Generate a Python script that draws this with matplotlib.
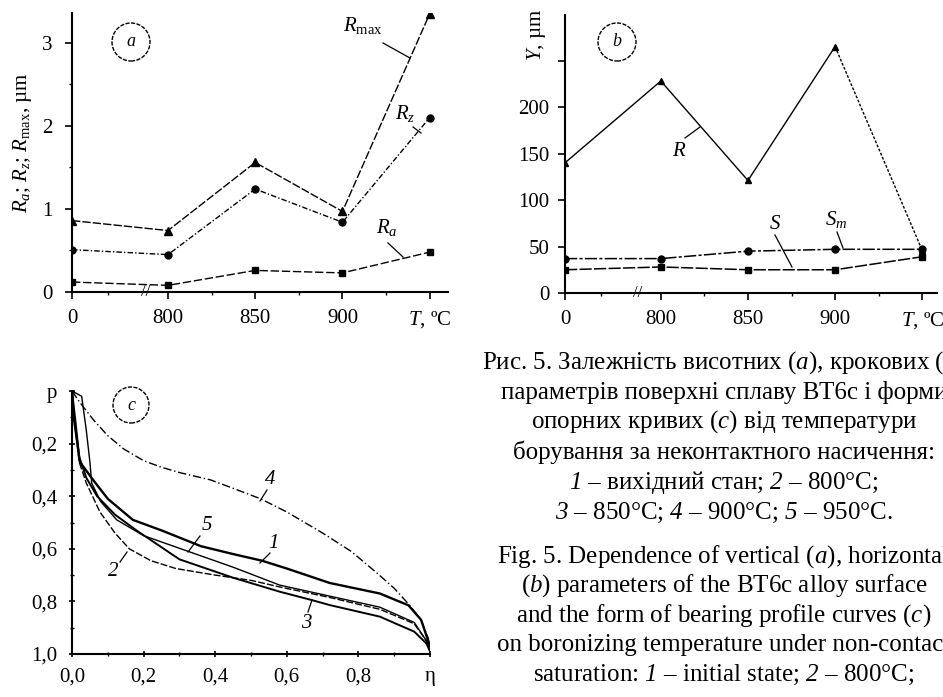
"""Boronizing of BT6c alloy: roughness, step parameters and bearing curves."""

import matplotlib

matplotlib.use("Agg")

import matplotlib.pyplot as plt
import numpy as np
from matplotlib.lines import Line2D
from matplotlib.patches import Ellipse

plt.rcParams["font.family"] = ["Liberation Serif", "DejaVu Serif"]
plt.rcParams["mathtext.fontset"] = "custom"
plt.rcParams["mathtext.rm"] = "Liberation Serif"
plt.rcParams["mathtext.it"] = "Liberation Serif:italic"
plt.rcParams["mathtext.bf"] = "Liberation Serif:bold"
# italic digits: mathtext sends digits in \mathit to roman, so borrow \mathsf
plt.rcParams["mathtext.sf"] = "Liberation Serif:italic"

W, H = 943, 697

# panels a and b: boronizing temperature (0 = initial state)
temps = ["0", "800", "850", "900", "950"]
temp_labels = ["0", "800", "850", "900", "$T$, ºC"]

r_max = [0.86, 0.74, 1.56, 0.97, 3.35]
r_z = [0.51, 0.45, 1.24, 0.84, 2.10]
r_a = [0.12, 0.08, 0.26, 0.23, 0.48]

step_r = [140, 228, 121, 265, 46]
step_sm = [37, 37, 45, 47, 47]
step_s = [25, 28, 25, 25, 39]

# panel c: bearing profile curves (eta, p)
eta_1 = [0, 0.005, 0.015, 0.022, 0.06, 0.1, 0.17, 0.25, 0.36, 0.45, 0.53,
         0.6, 0.72, 0.86, 0.94, 0.975, 0.99, 1.0]
p_1 = [0, 0.1, 0.2, 0.27, 0.34, 0.41, 0.49, 0.53, 0.59, 0.62, 0.645,
       0.675, 0.73, 0.77, 0.815, 0.87, 0.93, 0.97]
eta_2 = [0, 0.01, 0.02, 0.04, 0.078, 0.12, 0.16, 0.22, 0.29, 0.4, 0.5,
         0.58, 0.72, 0.86, 0.956, 0.99, 1.0]
p_2 = [0, 0.15, 0.27, 0.35, 0.46, 0.54, 0.6, 0.645, 0.675, 0.7, 0.72,
       0.745, 0.785, 0.83, 0.885, 0.95, 0.99]
eta_3 = [0, 0.01, 0.02, 0.04, 0.07, 0.12, 0.18, 0.3, 0.45, 0.58, 0.67,
         0.72, 0.86, 0.956, 0.99, 1.0]
p_3 = [0, 0.12, 0.25, 0.33, 0.4, 0.47, 0.53, 0.64, 0.71, 0.763, 0.795,
       0.814, 0.858, 0.915, 0.96, 0.99]
eta_4 = [0, 0.02, 0.06, 0.1, 0.144, 0.2, 0.25, 0.3, 0.387, 0.45, 0.527,
         0.6, 0.7, 0.78, 0.85, 0.9, 0.94, 0.975, 0.995, 1.0]
p_4 = [0, 0.04, 0.11, 0.17, 0.22, 0.265, 0.29, 0.31, 0.338, 0.37, 0.41,
       0.46, 0.54, 0.61, 0.69, 0.75, 0.81, 0.87, 0.94, 0.99]
eta_5 = [0, 0.027, 0.04, 0.05, 0.055, 0.08, 0.125, 0.2, 0.325, 0.45, 0.58,
         0.72, 0.86, 0.956, 0.99, 1.0]
p_5 = [0, 0.02, 0.15, 0.27, 0.35, 0.42, 0.49, 0.55, 0.61, 0.67, 0.738,
       0.78, 0.822, 0.88, 0.95, 0.99]

eta_ticks = ["0,0", "0,2", "0,4", "0,6", "0,8", "η"]
p_ticks = ["p", "0,2", "0,4", "0,6", "0,8", "1,0"]

caption_lines = [
    "Рис. 5. Залежність висотних ($\\mathit{a}$), крокових ($\\mathit{b}$)",
    "параметрів поверхні сплаву ВТ6с і форми",
    "опорних кривих ($\\mathit{c}$) від температури",
    "борування за неконтактного насичення:",
    "$\\mathsf{1}$ – вихідний стан; $\\mathsf{2}$ – 800°C;",
    "$\\mathsf{3}$ – 850°C; $\\mathsf{4}$ – 900°C; $\\mathsf{5}$ – 950°C.",
    "Fig. 5. Dependence of vertical ($\\mathit{a}$), horizontal",
    "($\\mathit{b}$) parameters of the BT6c alloy surface",
    "and the form of bearing profile curves ($\\mathit{c}$)",
    "on boronizing temperature under non-contact",
    "saturation: $\\mathsf{1}$ – initial state; $\\mathsf{2}$ – 800°C;",
]
caption_y = [363, 393, 422, 452, 483, 513, 557, 586, 616, 645, 675]

TICK_SIZE = 15


def fig_xy(x_px, y_px):
    """Convert pixel position (from the top left) to figure fraction."""
    return x_px / W, 1 - y_px / H


def axes_rect(left, top, right, bottom):
    x0, y1 = fig_xy(left, top)
    x1, y0 = fig_xy(right, bottom)
    return [x0, y0, x1 - x0, y1 - y0]


def category_positions(n):
    """Initial state sits a little apart from the temperature series."""
    positions = np.arange(n, dtype=float)
    positions[1:] += 0.1
    return positions


def style_axes(ax):
    for side in ("top", "right"):
        ax.spines[side].set_visible(False)
    for side in ("left", "bottom"):
        ax.spines[side].set_linewidth(1.5)
    ax.tick_params(which="major", direction="out", length=5, width=1.2,
                   labelsize=TICK_SIZE)
    ax.tick_params(which="minor", direction="out", length=2.5, width=1.0)


def leader(fig, text, text_px, line_px, size=15):
    tx, ty = fig_xy(*text_px)
    fig.text(tx, ty, text, ha="center", va="center", fontsize=size)
    (x0, y0), (x1, y1) = fig_xy(*line_px[0]), fig_xy(*line_px[1])
    fig.add_artist(Line2D([x0, x1], [y0, y1], color="black", lw=0.9,
                          transform=fig.transFigure))


def circle_label(fig, letter, center_px, radius_px=19):
    cx, cy = fig_xy(*center_px)
    fig.add_artist(Ellipse((cx, cy), 2 * radius_px / W, 2 * radius_px / H,
                           transform=fig.transFigure, fill=False,
                           ec="black", lw=1.0, ls=(0, (3, 1))))
    fig.text(cx, cy, letter, ha="center", va="center", fontsize=13,
             style="italic")


def axis_break(ax, x):
    ax.text(x, 0, "//", transform=ax.get_xaxis_transform(), ha="center",
            va="center", fontsize=12, clip_on=False)


fig = plt.figure(figsize=(W / 100, H / 100), dpi=100)

# ---- panel a: height parameters
ax_a = fig.add_axes(axes_rect(72, 13, 448, 292))
xa = category_positions(len(temps))
ax_a.plot(xa, r_max, color="black", lw=1.0, ls=(0, (6, 1.5)),
          marker="^", ms=6)
ax_a.plot(xa, r_z, color="black", lw=1.0, ls=(0, (4, 1.5, 1, 1.5)),
          marker="o", ms=5)
ax_a.plot(xa, r_a, color="black", lw=1.0, ls=(0, (6, 2)),
          marker="s", ms=4.5)
ax_a.set_xlim(0, 4.31)
ax_a.set_ylim(0, 3.36)
ax_a.set_xticks(xa, temp_labels)
ax_a.set_xticks((xa[:-1] + xa[1:]) / 2 - [0.14, 0, 0, 0], minor=True)
ax_a.set_yticks([0, 1, 2, 3])
ax_a.set_yticks(np.arange(0.5, 3.4, 1.0), minor=True)
style_axes(ax_a)
ax_a.tick_params(axis="x", pad=7)
ax_a.tick_params(axis="y", pad=9)
axis_break(ax_a, 0.84)

tx, ty = fig_xy(23, 143)
fig.text(tx, ty, "$R_a$; $R_z$; $R_{\\rm max}$, µm", rotation=90,
         ha="center", va="center", fontsize=15)
leader(fig, "$R_{\\rm max}$", (363, 25), ((383, 43), (410, 58)))
leader(fig, "$R_z$", (405, 113), ((413, 127), (421, 133)))
leader(fig, "$R_a$", (387, 228), ((388, 243), (403, 257)))
circle_label(fig, "a", (131, 42))

# ---- panel b: step parameters
ax_b = fig.add_axes(axes_rect(565, 15, 937, 293))
xb = category_positions(len(temps))
ax_b.plot(xb[:-1], step_r[:-1], color="black", lw=1.0)
ax_b.plot(xb[-2:], step_r[-2:], color="black", lw=1.0, ls=(0, (2, 1.2)))
ax_b.plot(xb, step_r, color="black", ls="none", marker="^", ms=5)
ax_b.plot(xb, step_sm, color="black", lw=1.1, ls=(0, (8, 1.5, 2, 1.5)),
          marker="o", ms=5)
ax_b.plot(xb, step_s, color="black", lw=1.1, ls=(0, (8, 1.5)),
          marker="s", ms=5)
ax_b.set_xlim(0, 4.27)
ax_b.set_ylim(0, 299)
ax_b.set_xticks(xb, temp_labels)
ax_b.set_xticks((xb[:-1] + xb[1:]) / 2 - [0.14, 0, 0, 0], minor=True)
ax_b.set_yticks([0, 50, 100, 150, 200, 250],
                ["0", "50", "100", "150", "200", ""])
style_axes(ax_b)
ax_b.tick_params(axis="x", pad=7)
ax_b.tick_params(axis="y", pad=6)
axis_break(ax_b, 0.83)

tx, ty = fig_xy(537, 35)
fig.text(tx, ty, "$Y$, µm", rotation=90, ha="center", va="center",
         fontsize=15)
leader(fig, "$R$", (679, 152), ((685, 138), (700, 127)))
leader(fig, "$S$", (775, 225), ((775, 235), (792, 267)))
leader(fig, "$S_m$", (836, 220), ((837, 232), (843, 248)))
circle_label(fig, "b", (617, 42))

# ---- panel c: bearing profile curves
ax_c = fig.add_axes(axes_rect(72, 391, 430, 654))
ax_c.plot(eta_4, p_4, color="black", lw=1.0, ls=(0, (6, 2, 1, 2)))
ax_c.plot(eta_2, p_2, color="black", lw=1.0, ls=(0, (5, 1.5)))
ax_c.plot(eta_5, p_5, color="black", lw=1.0)
ax_c.plot(eta_3, p_3, color="black", lw=1.4)
ax_c.plot(eta_1, p_1, color="black", lw=1.7)
ax_c.set_xlim(0, 1.0)
ax_c.set_ylim(1.0, 0)
ax_c.set_xticks(np.linspace(0, 1, 6), eta_ticks)
ax_c.set_yticks(np.linspace(0, 1, 6), p_ticks)
ax_c.set_xticks(np.arange(0.1, 1.0, 0.2), minor=True)
ax_c.set_yticks(np.arange(0.1, 1.0, 0.2), minor=True)
style_axes(ax_c)
ax_c.tick_params(which="both", direction="inout")
ax_c.tick_params(axis="x", pad=7)
ax_c.tick_params(axis="y", pad=8)

leader(fig, "$\\mathsf{4}$", (270, 480), ((267, 490), (260, 501)))
leader(fig, "$\\mathsf{5}$", (207, 525), ((200, 536), (188, 552)))
leader(fig, "$\\mathsf{1}$", (273, 543), ((270, 553), (260, 563)))
leader(fig, "$\\mathsf{2}$", (113, 571), ((120, 562), (127, 552)))
leader(fig, "$\\mathsf{3}$", (307, 624), ((308, 612), (312, 600)))
circle_label(fig, "c", (131, 405), radius_px=18)

# ---- caption (runs past the right edge, as in the scan)
for line, y in zip(caption_lines, caption_y):
    tx, ty = fig_xy(724, y)
    fig.text(tx, ty, line, ha="center", va="center", fontsize=18)

fig.savefig("out.png", dpi=100)
